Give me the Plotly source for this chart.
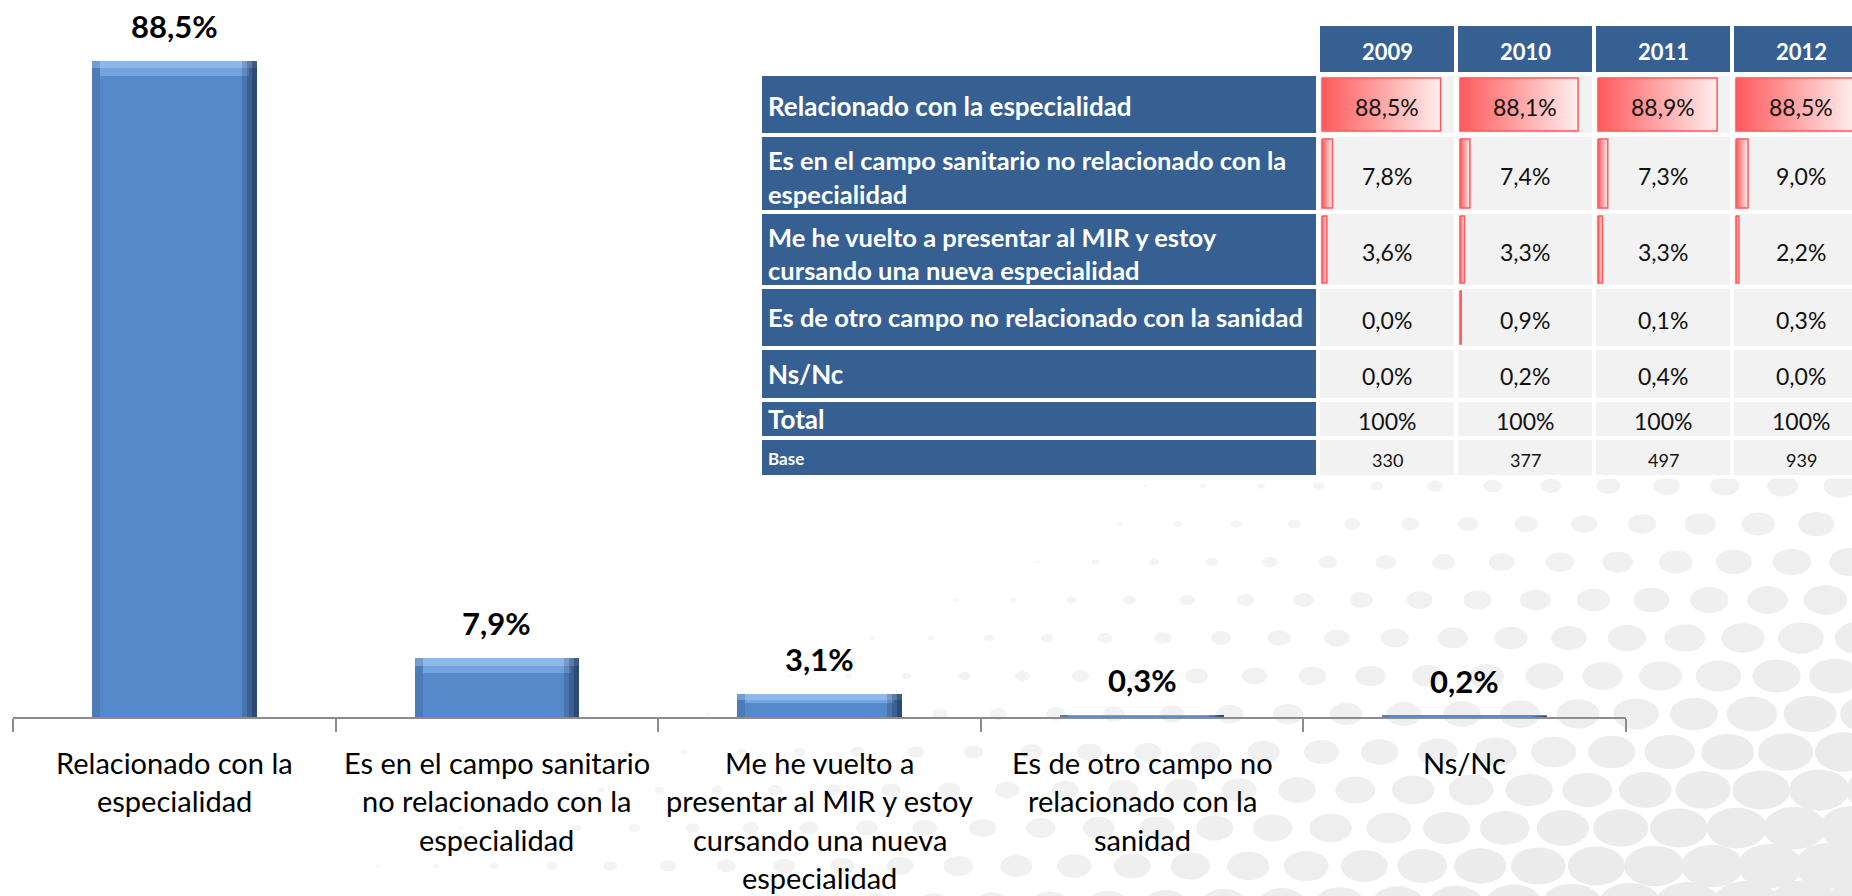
import base64
import plotly.graph_objects as go

# ---------------------------------------------------------------- data
categories = [
    "Relacionado con la especialidad",
    "Es en el campo sanitario no relacionado con la especialidad",
    "Me he vuelto a presentar al MIR y estoy cursando una nueva especialidad",
    "Es de otro campo no relacionado con la sanidad",
    "Ns/Nc",
]
category_lines = [
    ["Relacionado con la", "especialidad"],
    ["Es en el campo sanitario", "no relacionado con la", "especialidad"],
    ["Me he vuelto a", "presentar al MIR y estoy", "cursando una nueva", "especialidad"],
    ["Es de otro campo no", "relacionado con la", "sanidad"],
    ["Ns/Nc"],
]
values = [88.5, 7.9, 3.1, 0.3, 0.2]

years = ["2009", "2010", "2011", "2012"]
table_row_lines = [
    ["Relacionado con la especialidad"],
    ["Es en el campo sanitario no relacionado con la", "especialidad"],
    ["Me he vuelto a presentar al MIR y estoy", "cursando una nueva especialidad"],
    ["Es de otro campo no relacionado con la sanidad"],
    ["Ns/Nc"],
    ["Total"],
    ["Base"],
]
pct_2009 = [88.5, 7.8, 3.6, 0.0, 0.0]
pct_2010 = [88.1, 7.4, 3.3, 0.9, 0.2]
pct_2011 = [88.9, 7.3, 3.3, 0.1, 0.4]
pct_2012 = [88.5, 9.0, 2.2, 0.3, 0.0]
total_pct = [100, 100, 100, 100]
bases = [330, 377, 497, 939]

# ---------------------------------------------------------------- style
FONT = "Lato"
BLUE_CELL = "#366092"
GREY_CELL = "#F2F2F2"
BAR_BLUE = "#5689C9"
AXIS_GREY = "#8C8C8C"
W, H = 1852, 896


def fmt_pct(v):
    return f"{v:.1f}".replace(".", ",") + "%"


fig = go.Figure()

# ---------------------------------------------------------------- bevelled column chart
BAR_W = 0.51
fig.add_trace(go.Bar(x=categories, y=values, width=BAR_W, marker=dict(color=BAR_BLUE, line=dict(width=0)),
                     hoverinfo="skip", showlegend=False))

# top bevel highlights (height limited for short columns)
bevel = [min(2.0, v * 0.4) for v in values]
fig.add_trace(go.Bar(x=categories, y=[min(1.0, v * 0.25) for v in values],
                     base=[v - min(1.0, v * 0.25) for v in values], width=BAR_W,
                     marker=dict(color="rgba(170,208,250,0.55)", line=dict(width=0)),
                     hoverinfo="skip", showlegend=False))
fig.add_trace(go.Bar(x=categories, y=bevel, base=[v - b for v, b in zip(values, bevel)],
                     width=BAR_W - 0.05,
                     marker=dict(color="rgba(150,195,245,0.45)", line=dict(width=0)),
                     hoverinfo="skip", showlegend=False))
# shaded right and left edges
for frac, alpha in [(0.0465, 0.18), (0.031, 0.22), (0.0155, 0.32)]:
    fig.add_trace(go.Bar(x=categories, y=values, width=frac, offset=BAR_W / 2 - frac,
                         marker=dict(color=f"rgba(12,28,52,{alpha})", line=dict(width=0)),
                         hoverinfo="skip", showlegend=False))
fig.add_trace(go.Bar(x=categories, y=values, width=0.025, offset=-BAR_W / 2,
                     marker=dict(color="rgba(12,28,52,0.12)", line=dict(width=0)),
                     hoverinfo="skip", showlegend=False))

annotations = []
for cat, v in zip(categories, values):
    annotations.append(dict(x=cat, y=v, xref="x", yref="y", text=fmt_pct(v), showarrow=False,
                            yanchor="middle", yshift=35,
                            font=dict(family=FONT, size=31, color="#000000", weight="bold")))
for cat, lines in zip(categories, category_lines):
    for i, line in enumerate(lines):
        annotations.append(dict(x=cat, y=0, xref="x", yref="y", text=line, showarrow=False,
                                yanchor="middle", yshift=-(45 + 38.5 * i),
                                font=dict(family=FONT, size=29, color="#000000")))

# ---------------------------------------------------------------- table (pixel-space overlay axes)
col_left = [1320, 1458, 1596, 1734]
COL_W = 134
LABEL_X0, LABEL_X1 = 762, 1316
HEADER_Y = (26, 72)
row_bounds = [(76, 133), (137, 210), (214, 285), (289, 346), (350, 398), (402, 436), (440, 475)]
label_line_y = [[106], [160, 194], [237, 270], [317], [374], [419], [458]]
label_sizes = [26, 25.5, 25.5, 25.5, 26, 26, 17]

# white backdrop keeps the gaps between cells clean
shapes = [dict(type="rect", xref="x2", yref="y2", x0=LABEL_X0 - 4, x1=W, y0=HEADER_Y[0] - 4,
               y1=row_bounds[-1][1] + 4, fillcolor="#FFFFFF", line=dict(width=0), layer="below")]
for x0 in col_left:
    shapes.append(dict(type="rect", xref="x2", yref="y2", x0=x0, x1=x0 + COL_W, y0=HEADER_Y[0], y1=HEADER_Y[1],
                       fillcolor=BLUE_CELL, line=dict(width=0), layer="below"))
for (y0, y1) in row_bounds:
    shapes.append(dict(type="rect", xref="x2", yref="y2", x0=LABEL_X0, x1=LABEL_X1, y0=y0, y1=y1,
                       fillcolor=BLUE_CELL, line=dict(width=0), layer="below"))
    for x0 in col_left:
        shapes.append(dict(type="rect", xref="x2", yref="y2", x0=x0, x1=x0 + COL_W, y0=y0, y1=y1,
                           fillcolor=GREY_CELL, line=dict(width=0), layer="below"))

year_columns = [pct_2009, pct_2010, pct_2011, pct_2012]

# data bars inside the percentage cells
for x0, col in zip(col_left, year_columns):
    for r, v in enumerate(col):
        length = v / 100 * COL_W
        if length < 1:
            continue
        y0, y1 = row_bounds[r]
        bx0, bx1 = x0 + 2, x0 + 2 + length
        fig.add_trace(go.Scatter(
            x=[bx0, bx1, bx1, bx0, bx0], y=[y0 + 2, y0 + 2, y1 - 2, y1 - 2, y0 + 2],
            xaxis="x2", yaxis="y2", mode="lines", fill="toself",
            fillgradient=dict(type="horizontal", colorscale=[[0, "#FF5A5C"], [1, "#FFEEEE"]]),
            line=dict(color="#FF5A5C", width=1.5), hoverinfo="skip", showlegend=False))

for x0, yr in zip(col_left, years):
    annotations.append(dict(x=x0 + COL_W / 2, y=(HEADER_Y[0] + HEADER_Y[1]) / 2 + 2, xref="x2", yref="y2",
                            text=yr, showarrow=False, xanchor="center", yanchor="middle",
                            font=dict(family=FONT, size=22, color="#FFFFFF", weight="bold")))

for lines, ys, size in zip(table_row_lines, label_line_y, label_sizes):
    for line, y in zip(lines, ys):
        annotations.append(dict(x=LABEL_X0 + 4, y=y, xref="x2", yref="y2", text=line, showarrow=False,
                                xanchor="left", yanchor="middle",
                                font=dict(family=FONT, size=size, color="#FFFFFF", weight="bold")))

for c, x0 in enumerate(col_left):
    cells = [fmt_pct(v) for v in year_columns[c]] + [f"{total_pct[c]}%", str(bases[c])]
    for r, txt in enumerate(cells):
        y0, y1 = row_bounds[r]
        annotations.append(dict(x=x0 + COL_W / 2, y=(y0 + y1) / 2 + 2, xref="x2", yref="y2", text=txt,
                                showarrow=False, xanchor="center", yanchor="middle",
                                font=dict(family=FONT, size=18 if r == 6 else 23, color="#111111")))

# ---------------------------------------------------------------- halftone backdrop
def halftone_svg():
    parts = [f'<svg xmlns="http://www.w3.org/2000/svg" width="{W}" height="{H}" viewBox="0 0 {W} {H}">']
    for j in range(17):
        y = 372 + j * 38
        off = 29 if j % 2 else 0
        for i in range(-1, 34):
            x = i * 58 + off + (y - 372) * 0.12
            rx = 0.045 * (y - 470) + 0.022 * (x - 1150) + 1
            rx = min(rx, 40)
            if rx < 1.5:
                continue
            g = int(round(246 - min(rx, 30) / 30 * 11))
            parts.append(f'<ellipse cx="{x:.1f}" cy="{y:.1f}" rx="{rx:.1f}" ry="{rx * 0.68:.1f}" '
                         f'fill="rgb({g},{g},{g})"/>')
    parts.append("</svg>")
    return "data:image/svg+xml;base64," + base64.b64encode("".join(parts).encode()).decode()


fig.update_layout(
    width=W, height=H, autosize=False,
    margin=dict(l=0, r=0, t=0, b=0),
    paper_bgcolor="#FFFFFF", plot_bgcolor="rgba(0,0,0,0)",
    barmode="overlay", bargap=0,
    xaxis=dict(domain=[13 / W, 1626 / W], type="category", range=[-0.5, 4.5],
               showline=True, linecolor=AXIS_GREY, linewidth=2,
               ticks="outside", tickson="boundaries", ticklen=13, tickcolor=AXIS_GREY, tickwidth=2,
               showticklabels=False, showgrid=False, zeroline=False, fixedrange=True),
    yaxis=dict(domain=[(H - 717) / H, 1], range=[0, 96.7], visible=False, fixedrange=True),
    xaxis2=dict(domain=[0, 1], range=[0, W], anchor="y2", visible=False, fixedrange=True),
    yaxis2=dict(domain=[0, 1], range=[H, 0], anchor="x2", visible=False, fixedrange=True),
    shapes=shapes,
    annotations=annotations,
    images=[dict(source=halftone_svg(), xref="paper", yref="paper", x=0, y=1, sizex=1, sizey=1,
                 xanchor="left", yanchor="top", sizing="stretch", layer="below")],
    showlegend=False,
)

fig.write_html("out.html", include_plotlyjs=True, config={"displayModeBar": False})
